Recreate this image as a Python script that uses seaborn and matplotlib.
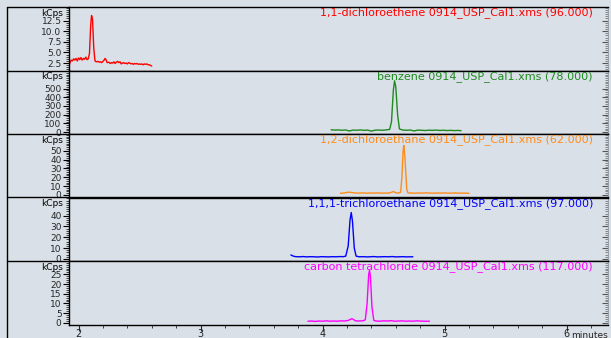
import matplotlib
matplotlib.use("Agg")
import matplotlib.pyplot as plt
import seaborn as sns
from matplotlib.lines import Line2D
from matplotlib.ticker import MultipleLocator, FixedLocator

# traces (time in minutes, signal in kCps)
dce11_t = [1.92, 1.93, 1.94, 1.95, 1.96, 1.97, 1.98, 1.99, 2.00, 2.01, 2.02, 2.03,
           2.04, 2.05, 2.06, 2.07, 2.08, 2.09, 2.10, 2.107, 2.115, 2.125, 2.135,
           2.145, 2.16, 2.17, 2.18, 2.19, 2.20, 2.21, 2.218, 2.225, 2.235, 2.25,
           2.26, 2.27, 2.28, 2.29, 2.30, 2.31, 2.32, 2.33, 2.34, 2.35, 2.36, 2.37,
           2.38, 2.39, 2.40, 2.41, 2.42, 2.43, 2.44, 2.45, 2.46, 2.47, 2.48, 2.49,
           2.50, 2.51, 2.52, 2.53, 2.54, 2.55, 2.56, 2.57, 2.58, 2.60]
dce11_v = [1.6, 2.6, 3.2, 3.0, 3.5, 3.2, 3.6, 3.0, 3.7, 3.3, 3.8, 3.2,
           3.6, 3.4, 3.9, 3.3, 3.5, 4.8, 11.5, 13.7, 12.8, 6.0, 3.0,
           2.8, 2.9, 2.7, 2.8, 2.6, 2.9, 3.2, 3.6, 3.3, 2.6, 2.7,
           2.4, 2.6, 2.5, 2.8, 2.4, 2.7, 2.9, 2.6, 2.8, 2.3, 2.5, 2.6,
           2.4, 2.5, 2.3, 2.6, 2.5, 2.3, 2.4, 2.2, 2.4, 2.3, 2.4, 2.2,
           2.3, 2.2, 2.3, 2.1, 2.3, 2.2, 2.3, 2.1, 2.1, 1.8]

benz_t = [4.07, 4.10, 4.13, 4.16, 4.19, 4.22, 4.25, 4.28, 4.31, 4.34, 4.37, 4.40,
          4.43, 4.46, 4.49, 4.52, 4.55, 4.565, 4.58, 4.59, 4.60, 4.615, 4.63,
          4.66, 4.69, 4.72, 4.75, 4.78, 4.81, 4.84, 4.87, 4.90, 4.93, 4.96,
          4.99, 5.02, 5.05, 5.08, 5.11, 5.135]
benz_v = [25, 22, 24, 20, 23, 12, 22, 20, 24, 19, 22, 10,
          21, 23, 20, 24, 30, 120, 480, 590, 520, 200, 35,
          22, 20, 23, 12, 22, 20, 17, 21, 19, 22, 18,
          20, 17, 19, 16, 18, 15]

dca12_t = [4.146, 4.17, 4.20, 4.22, 4.24, 4.27, 4.30, 4.33, 4.36, 4.39, 4.42,
           4.45, 4.48, 4.51, 4.54, 4.56, 4.58, 4.60, 4.62, 4.64, 4.65, 4.66,
           4.666, 4.675, 4.69, 4.70, 4.73, 4.76, 4.79, 4.82, 4.85, 4.88, 4.91,
           4.94, 4.97, 5.00, 5.03, 5.06, 5.09, 5.12, 5.15, 5.20]
dca12_v = [1.8, 2.0, 2.8, 3.0, 2.6, 2.1, 2.0, 2.2, 1.9, 2.1, 2.0,
           2.2, 1.9, 2.1, 2.0, 2.6, 3.8, 2.4, 2.0, 3.0, 20, 50,
           56, 42, 6, 2.2, 2.0, 1.9, 2.1, 2.0, 2.3, 2.0, 1.9,
           2.1, 2.0, 2.2, 1.9, 2.0, 2.1, 1.9, 2.0, 1.8]

tca111_t = [3.74, 3.76, 3.78, 3.81, 3.84, 3.87, 3.90, 3.93, 3.96, 3.99, 4.02,
            4.05, 4.08, 4.11, 4.14, 4.17, 4.19, 4.21, 4.225, 4.235, 4.245, 4.26,
            4.275, 4.30, 4.33, 4.36, 4.39, 4.42, 4.45, 4.48, 4.51, 4.54, 4.57,
            4.60, 4.63, 4.66, 4.69, 4.72, 4.74]
tca111_v = [3.7, 2.6, 2.1, 2.0, 2.2, 1.9, 2.1, 2.0, 1.8, 2.1, 2.0,
            1.9, 2.1, 2.0, 2.2, 2.1, 2.6, 12, 36, 42.9, 35, 10,
            2.6, 2.0, 2.1, 1.9, 2.0, 2.2, 1.9, 2.0, 2.1, 2.0, 2.2,
            1.9, 2.0, 2.1, 1.9, 2.0, 2.0]

ctc_t = [3.88, 3.91, 3.94, 3.97, 4.00, 4.03, 4.06, 4.09, 4.12, 4.15, 4.18,
         4.21, 4.23, 4.24, 4.25, 4.27, 4.30, 4.33, 4.35, 4.365, 4.378, 4.385,
         4.392, 4.405, 4.42, 4.44, 4.47, 4.50, 4.53, 4.56, 4.59, 4.62, 4.65,
         4.68, 4.71, 4.74, 4.77, 4.80, 4.83, 4.876]
ctc_v = [0.8, 0.9, 0.7, 0.9, 0.8, 1.0, 0.8, 0.9, 0.8, 1.0, 0.9,
         1.2, 1.8, 2.1, 1.8, 1.0, 0.9, 1.0, 1.5, 10, 25, 27.2,
         24, 8, 1.2, 0.9, 0.8, 1.0, 0.9, 1.1, 0.8, 0.9, 1.0,
         0.8, 0.9, 0.8, 1.0, 0.9, 0.8, 0.8]

titles = ["1,1-dichloroethene 0914_USP_Cal1.xms (96.000)",
          "benzene 0914_USP_Cal1.xms (78.000)",
          "1,2-dichloroethane 0914_USP_Cal1.xms (62.000)",
          "1,1,1-trichloroethane 0914_USP_Cal1.xms (97.000)",
          "carbon tetrachloride 0914_USP_Cal1.xms (117.000)"]
colors = ["#ff0000", "#1f8a1f", "#ff8c1a", "#0000ff", "#ff00ff"]
yticks = [[2.5, 5.0, 7.5, 10.0, 12.5],
          [0, 100, 200, 300, 400, 500],
          [0, 10, 20, 30, 40, 50],
          [0, 10, 20, 30, 40],
          [0, 5, 10, 15, 20, 25]]
ytick_labels = [["2.5", "5.0", "7.5", "10.0", "12.5"],
                ["0", "100", "200", "300", "400", "500"],
                ["0", "10", "20", "30", "40", "50"],
                ["0", "10", "20", "30", "40"],
                ["0", "5", "10", "15", "20", "25"]]
ylims = [(0.75, 15.7), (-23, 708), (-3, 69), (-1.9, 56.8), (-0.9, 31.9)]
yminor = [0.5, 20, 2, 2, 1]
xticks = [2, 3, 4, 5, 6]

traces = [(dce11_t, dce11_v), (benz_t, benz_v), (dca12_t, dca12_v),
          (tca111_t, tca111_v), (ctc_t, ctc_v)]

bg = "#dae0e7"
sns.set_theme(style="ticks")
plt.rcParams["font.family"] = ["DejaVu Sans"]

W, H = 611, 338
fig, axes = plt.subplots(5, 1, sharex=True, figsize=(W / 100, H / 100), dpi=100)
fig.patch.set_facecolor(bg)
plt.subplots_adjust(left=68.5 / W, right=607.5 / W, top=1 - 7 / H,
                    bottom=1 - 324.5 / H, hspace=0)

for i, ax in enumerate(axes):
    t, v = traces[i]
    sns.lineplot(x=t, y=v, color=colors[i], linewidth=1.0, ax=ax)
    ax.set_facecolor(bg)
    ax.set_xlim(1.918, 6.335)
    ax.set_ylim(*ylims[i])
    ax.yaxis.set_major_locator(FixedLocator(yticks[i]))
    ax.set_yticklabels(ytick_labels[i])
    ax.yaxis.set_minor_locator(MultipleLocator(yminor[i]))
    ax.xaxis.set_major_locator(FixedLocator(xticks))
    ax.xaxis.set_minor_locator(MultipleLocator(0.2))
    ax.tick_params(axis="y", which="major", length=4, width=0.8, pad=1,
                   labelsize=6.5, direction="out", color="black")
    ax.tick_params(axis="y", which="minor", length=2, width=0.6, direction="out")
    ax.tick_params(axis="x", which="major", length=4, width=0.8, pad=-1,
                   labelsize=7, direction="out")
    ax.tick_params(axis="x", which="minor", length=2, width=0.6, direction="out")
    for side in ["left", "top", "bottom"]:
        ax.spines[side].set_color("black")
        ax.spines[side].set_linewidth(1.0)
    ax.spines["right"].set_visible(False)
    if i < 4:
        ax.tick_params(axis="x", which="both", bottom=False, labelbottom=False)

    # inward ticks on the right edge
    sec = ax.secondary_yaxis("right")
    sec.yaxis.set_major_locator(FixedLocator(yticks[i]))
    sec.yaxis.set_minor_locator(MultipleLocator(yminor[i]))
    sec.tick_params(which="major", direction="in", length=4, width=0.8,
                    labelright=False, color="#555555")
    sec.tick_params(which="minor", direction="in", length=2, width=0.6,
                    color="#777777")
    sec.spines["right"].set_color("#9aa0a6")
    sec.spines["right"].set_linewidth(0.8)

    ax.set_xlabel("")
    ax.set_ylabel("")
    ax.text(0.973, 1 - 6 / 63.5, titles[i], transform=ax.transAxes, ha="right",
            va="center", color=colors[i], fontsize=8)
    ax.text(-0.01, 1 - 6.3 / 63.5, "kCps", transform=ax.transAxes, ha="right",
            va="center", color="black", fontsize=6.5)

# outer frame on the left and panel dividers running out to it
x0 = 7 / W
fig.add_artist(Line2D([x0, x0], [0, 1 - 7 / H], color="black", lw=1.0,
                      transform=fig.transFigure))
for ax in axes:
    pos = ax.get_position()
    fig.add_artist(Line2D([x0, pos.x0], [pos.y1, pos.y1], color="black", lw=1.0,
                          transform=fig.transFigure))

fig.text(608 / W, 1 - 330.5 / H, "minutes", ha="right", va="top", fontsize=6.5)

fig.savefig("out.png", dpi=100, facecolor=bg)
